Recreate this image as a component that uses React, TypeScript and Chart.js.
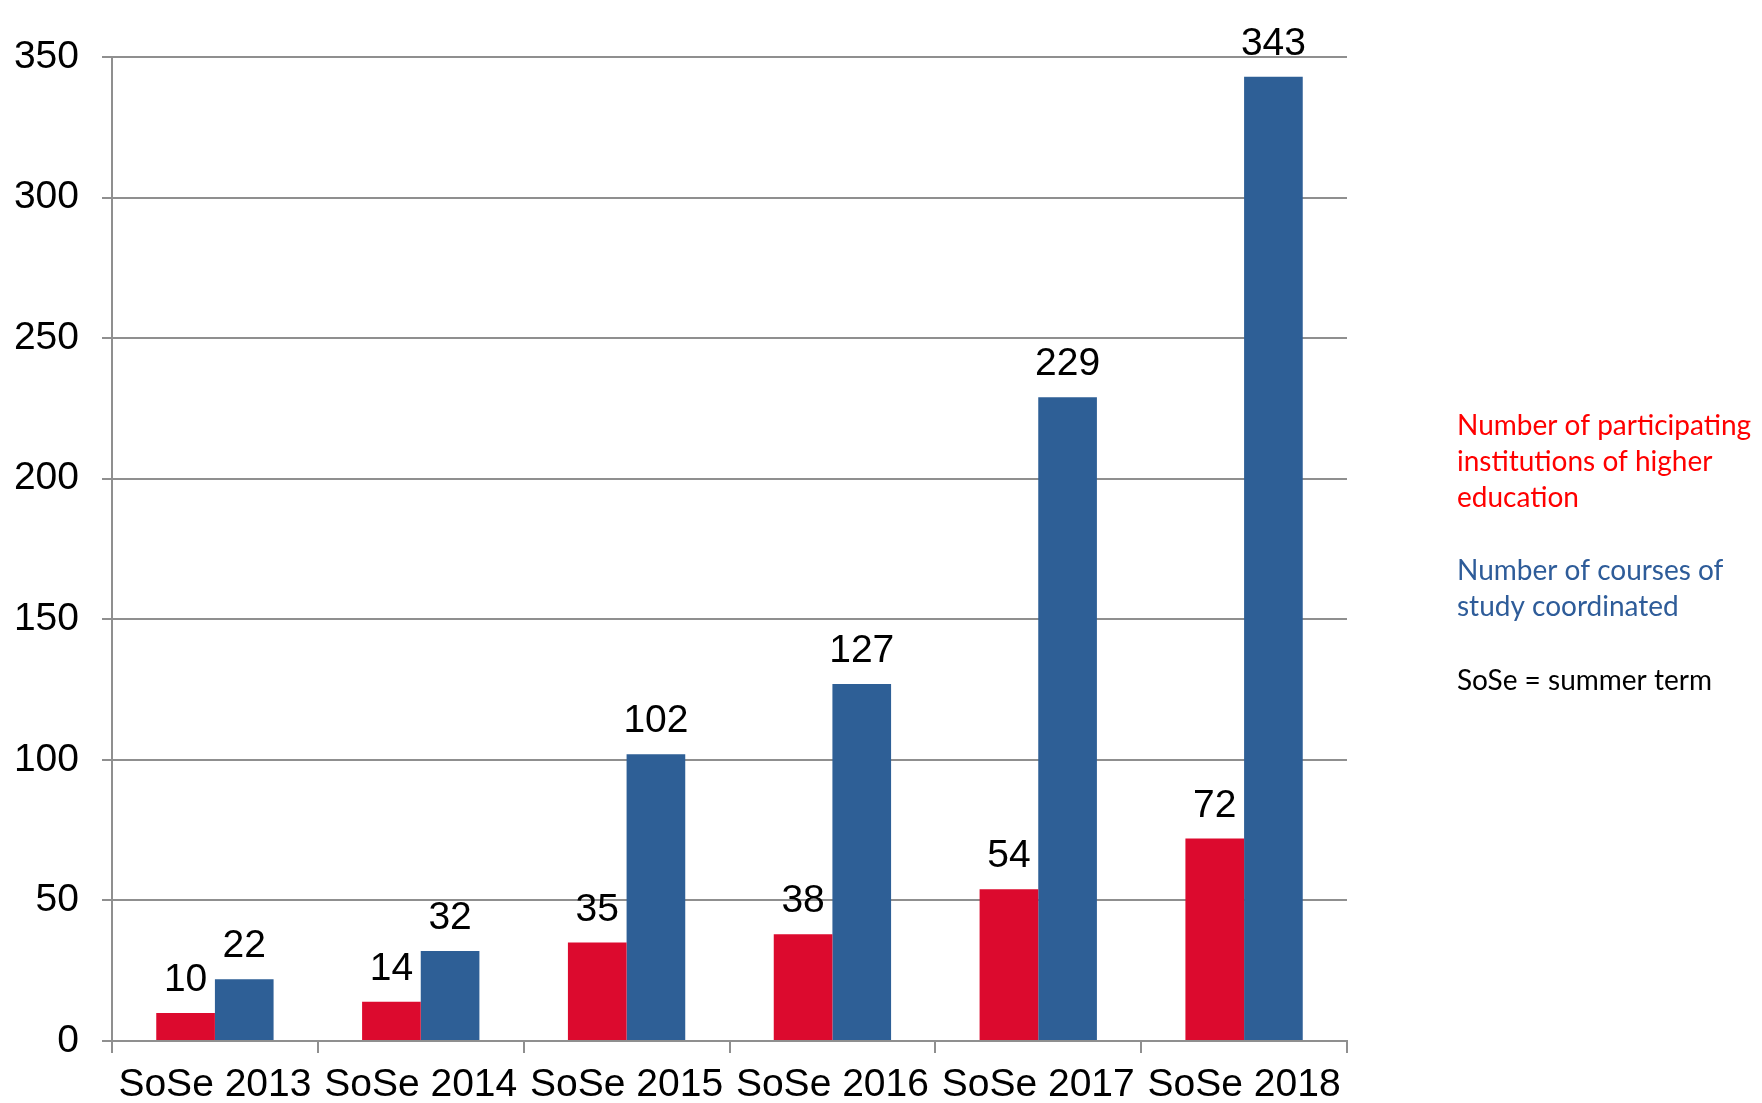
import React, { useEffect, useRef } from "react";
import { Chart, registerables } from "chart.js";

Chart.register(...registerables);

const categories = ["SoSe 2013", "SoSe 2014", "SoSe 2015", "SoSe 2016", "SoSe 2017", "SoSe 2018"];
const institutions = [10, 14, 35, 38, 54, 72];
const courses = [22, 32, 102, 127, 229, 343];
const yMin = 0;
const yMax = 350;
const yStep = 50;
const legendRed = ["Number of participating", "institutions of higher", "education"];
const legendBlue = ["Number of courses of", "study coordinated"];
const legendNote = ["SoSe = summer term"];

const AXIS_FONT = "'Liberation Sans', Arial, sans-serif";
const NOTE_FONT = "Lato, 'Open Sans', sans-serif";
const GRID = "#8f8f8f";

const valueLabels = {
  id: "valueLabels",
  afterDatasetsDraw(chart: any) {
    const ctx = chart.ctx;
    ctx.save();
    ctx.font = `39px ${AXIS_FONT}`;
    ctx.fillStyle = "#000";
    ctx.textAlign = "center";
    ctx.textBaseline = "alphabetic";
    chart.data.datasets.forEach((ds: any, i: number) => {
      const meta = chart.getDatasetMeta(i);
      meta.data.forEach((bar: any, j: number) => {
        ctx.fillText(String(ds.data[j]), bar.x, bar.y - 22);
      });
    });
    ctx.restore();
  },
};

const sideNotes = {
  id: "sideNotes",
  afterDraw(chart: any) {
    const ctx = chart.ctx;
    const x = chart.chartArea.right + 110;
    ctx.save();
    ctx.font = `28px ${NOTE_FONT}`;
    ctx.textAlign = "left";
    ctx.textBaseline = "alphabetic";
    const lh = 36;
    ctx.fillStyle = "#ff0000";
    legendRed.forEach((t, i) => ctx.fillText(t, x, 435 + i * lh));
    ctx.fillStyle = "#2e5c99";
    legendBlue.forEach((t, i) => ctx.fillText(t, x, 580 + i * lh));
    ctx.fillStyle = "#000000";
    legendNote.forEach((t, i) => ctx.fillText(t, x, 690 + i * lh));
    ctx.restore();
  },
};

export default function App() {
  const ref = useRef<HTMLCanvasElement | null>(null);

  useEffect(() => {
    if (!ref.current) return;
    const chart = new Chart(ref.current, {
      type: "bar",
      data: {
        labels: categories,
        datasets: [
          {
            label: "Number of participating institutions of higher education",
            data: institutions,
            backgroundColor: "#dc0a2e",
            categoryPercentage: 0.57,
            barPercentage: 1.0,
          },
          {
            label: "Number of courses of study coordinated",
            data: courses,
            backgroundColor: "#2e5f96",
            categoryPercentage: 0.57,
            barPercentage: 1.0,
          },
        ],
      },
      options: {
        animation: false,
        responsive: false,
        devicePixelRatio: 1,
        layout: { padding: { top: 57, right: 415, bottom: 0, left: 0 } },
        plugins: {
          legend: { display: false },
          tooltip: { enabled: false },
          title: { display: false },
        },
        scales: {
          x: {
            afterFit: (scale: any) => {
              scale.height = 62;
            },
            grid: {
              drawOnChartArea: false,
              drawTicks: true,
              tickLength: 12,
              color: GRID,
              lineWidth: 2,
              offset: true,
            },
            border: { display: true, color: GRID, width: 2 },
            ticks: {
              color: "#000",
              font: { family: AXIS_FONT, size: 39 },
              padding: 9,
              maxRotation: 0,
              autoSkip: false,
            },
          },
          y: {
            min: yMin,
            max: yMax,
            afterFit: (scale: any) => {
              scale.width = 112;
            },
            grid: {
              color: GRID,
              lineWidth: 2,
              drawTicks: true,
              tickLength: 10,
            },
            border: { display: true, color: GRID, width: 2 },
            ticks: {
              stepSize: yStep,
              color: "#000",
              font: { family: AXIS_FONT, size: 39 },
              padding: 23,
            },
          },
        },
      },
      plugins: [valueLabels, sideNotes],
    });
    return () => chart.destroy();
  }, []);

  return (
    <div style={{ position: "fixed", left: 0, top: 0, width: 1762, height: 1103, background: "#fff" }}>
      <canvas ref={ref} width={1762} height={1103} style={{ width: 1762, height: 1103 }} />
    </div>
  );
}
